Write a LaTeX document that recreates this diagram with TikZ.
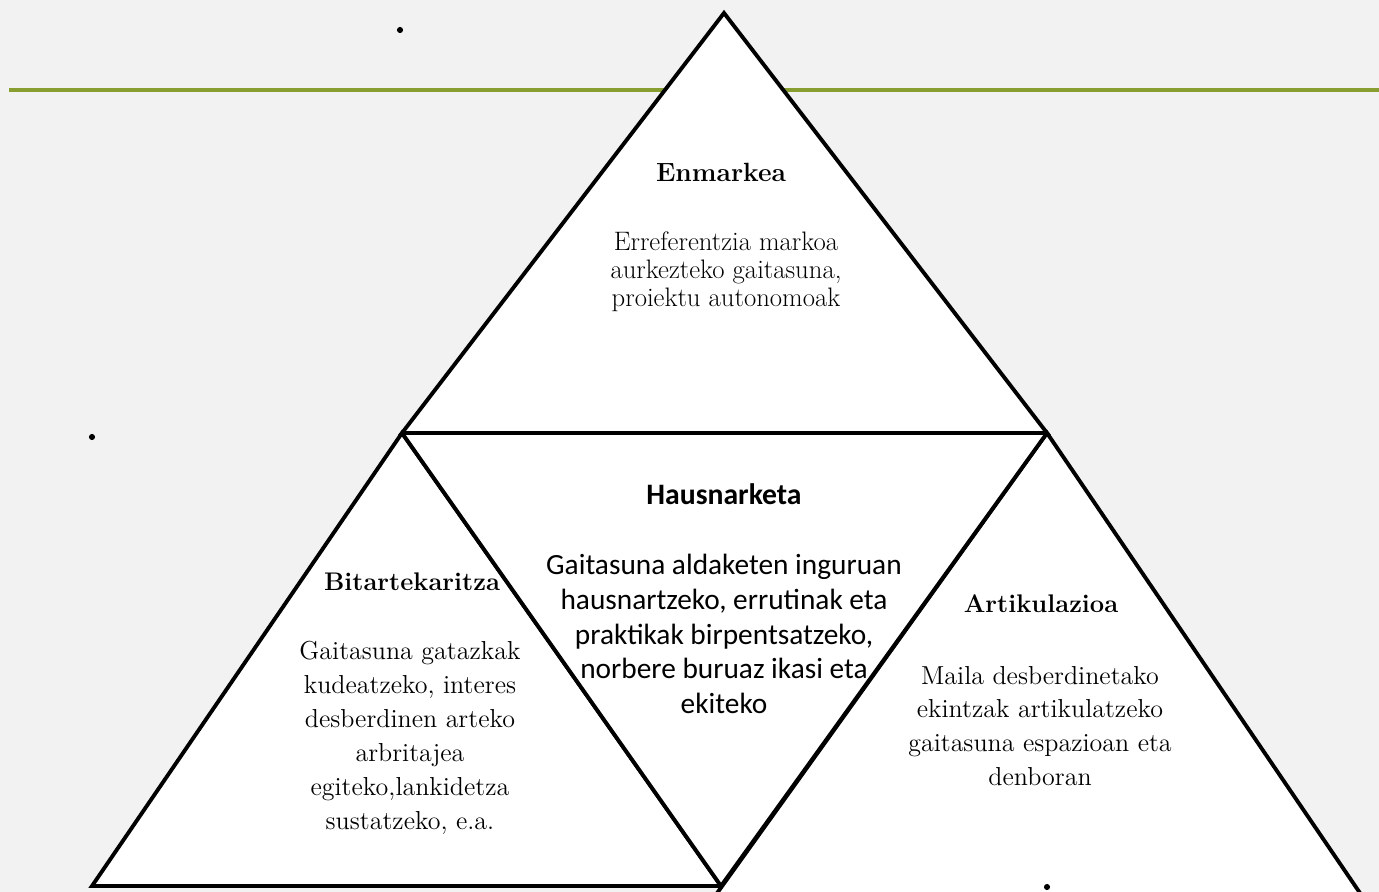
\documentclass[tikz,border=0pt]{standalone}
\usepackage{fontspec}
\newfontfamily\calibri{Carlito}
\usetikzlibrary{positioning}
\definecolor{backgray}{RGB}{242,242,242}
\definecolor{linegreen}{RGB}{137,158,48}
\tikzset{
  tri/.style={draw=black,fill=white,line width=2.2pt,line join=miter},
  title/.style={font=\fontsize{14.5}{17}\selectfont\bfseries},
  body/.style={align=center,font=\fontsize{14.8}{19.3}\selectfont},
  dot/.style={circle,fill=black,inner sep=0pt,minimum size=3.5pt}
}
\begin{document}
\begin{tikzpicture}[x=0.02cm,y=-0.02cm]
   \clip (0,0) rectangle (1379,892);
   \fill[backgray] (0,0) rectangle (1379,892);
   \draw[linegreen,line width=2pt] (9,90) -- (1379,90);
   % corners
   \coordinate (apex) at (724,13);
   \coordinate (ml) at (402,433);
   \coordinate (mr) at (1047,433);
   \coordinate (bl) at (92,886);
   \coordinate (bm) at (721,886);
   \coordinate (br) at (1362,896);
   \coordinate (bmr) at (715,896);
   % triangles
   \draw[tri] (apex) -- (ml) -- (mr) -- cycle;
   \draw[tri] (ml) -- (bl) -- (bm) -- cycle;
   \draw[tri] (mr) -- (bmr) -- (br) -- cycle;
   \draw[tri] (ml) -- (bm) -- (mr);
   \draw[line width=2.2pt] (ml) -- (mr);
   \draw[line width=2.2pt] (bl) -- (bm);
   % texts
   \node[title,font=\fontsize{15}{17}\selectfont\bfseries] (enm) at (721,172) {Enmarkea};
   \node[body,font=\fontsize{15.2}{15.9}\selectfont] (enmtxt) at (726,272)
     {Erreferentzia markoa\\aurkezteko gaitasuna,\\proiektu autonomoak};
   \node[title,font=\calibri\fontsize{16.9}{19}\selectfont\bfseries] (haus) at (724,494) {Hausnarketa};
   \node[body,font=\calibri\fontsize{16.7}{19.8}\selectfont] (haustxt) at (724,634)
     {Gaitasuna aldaketen inguruan\\hausnartzeko, errutinak eta\\praktikak birpentsatzeko,\\norbere buruaz ikasi eta\\ekiteko};
   \node[title] (bit) at (412,582) {Bitartekaritza};
   \node[body] (bittxt) at (410,738)
     {Gaitasuna gatazkak\\kudeatzeko, interes\\desberdinen arteko\\arbritajea\\egiteko,lankidetza\\sustatzeko, e.a.};
   \node[title] (art) at (1041,604) {Artikulazioa};
   \node[body] (arttxt) at (1040,726)
     {Maila desberdinetako\\ekintzak artikulatzeko\\gaitasuna espazioan eta\\denboran};
   % stray dots
   \node[dot] (d1) at (400,30) {};
   \node[dot] (d2) at (92,437) {};
   \node[dot] (d3) at (1047,887) {};
\end{tikzpicture}
\end{document}
